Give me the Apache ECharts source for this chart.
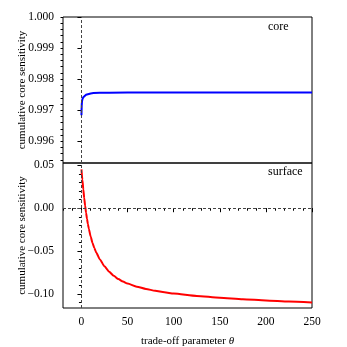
<!DOCTYPE html>
<html>
<head>
<meta charset="utf-8">
<script src="https://cdn.jsdelivr.net/npm/echarts@6/dist/echarts.min.js"></script>
<style>html,body{margin:0;padding:0;background:#fff;}#c{width:347px;height:347px;}</style>
</head>
<body>
<div id="c"></div>
<script>
// ---- data ----
const coreTheta = [0, 0.3, 0.6, 1, 1.5, 2, 3, 4, 5, 7, 10, 13, 20, 30, 50, 100, 150, 200, 250];
const coreVals  = [0.99684, 0.99715, 0.99728, 0.99735, 0.99739, 0.99742, 0.99746, 0.99748, 0.99750, 0.99752, 0.99754, 0.99755, 0.99756, 0.99756, 0.99757, 0.99757, 0.99757, 0.99757, 0.99757];
const surfTheta = [0, 1, 2, 3, 4, 5, 6, 7, 8, 10, 12, 14, 16, 20, 25, 30, 35, 40, 45, 50, 60, 70, 80, 90, 100, 125, 150, 175, 200, 225, 250];
const surfVals  = [0.0453, 0.0333, 0.0221, 0.0120, 0.0029, -0.0052, -0.0123, -0.0185, -0.0239, -0.0331, -0.0405, -0.0465, -0.0515, -0.0597, -0.0677, -0.0740, -0.0788, -0.0826, -0.0855, -0.0878, -0.0914, -0.0941, -0.0963, -0.0980, -0.0995, -0.1022, -0.1043, -0.1060, -0.1075, -0.1088, -0.1099];
const xMajorTicks = [0, 50, 100, 150, 200, 250];
const xMinorTicks = [-20, -10, 0, 10, 20, 30, 40, 50, 60, 70, 80, 90, 100, 110, 120, 130, 140, 150, 160, 170, 180, 190, 200, 210, 220, 230, 240, 250];
const coreMajorTicks = [0.996, 0.997, 0.998, 0.999, 1.000];
const coreMinorTicks = [0.9954, 0.9956, 0.9958, 0.996, 0.9962, 0.9964, 0.9966, 0.9968, 0.997, 0.9972, 0.9974, 0.9976, 0.9978, 0.998, 0.9982, 0.9984, 0.9986, 0.9988, 0.999, 0.9992, 0.9994, 0.9996, 0.9998, 1.000];
const surfMajorTicks = [-0.10, -0.05, 0.00, 0.05];
const surfMinorTicks = [-0.11, -0.10, -0.09, -0.08, -0.07, -0.06, -0.05, -0.04, -0.03, -0.02, -0.01, 0.00, 0.01, 0.02, 0.03, 0.04, 0.05];
const xRange = [-20, 250];
const coreRange = [0.9953, 1.000];
const surfRange = [-0.1163, 0.0527];
const yName = 'cumulative core sensitivity';

const serif = '"Liberation Serif", "DejaVu Serif", serif';
const chart = echarts.init(document.getElementById('c'), null, {renderer: 'canvas'});

function minorAxis(extra, ticks) {
  return Object.assign({
    type: 'value',
    axisLine: {show: false},
    axisLabel: {show: false},
    splitLine: {show: false},
    axisTick: {show: true, inside: false, length: 2.5, lineStyle: {color: '#000', width: 1}, customValues: ticks}
  }, extra);
}

const dashStyle = {color: '#444', width: 1, type: [3, 2]};

chart.setOption({
  animation: false,
  backgroundColor: '#fff',
  grid: [
    {left: 63, top: 17, width: 249, height: 146, show: true, borderColor: '#000', borderWidth: 1, backgroundColor: 'transparent', containLabel: false, outerBoundsMode: 'none'},
    {left: 63, top: 163, width: 249, height: 145, show: true, borderColor: '#000', borderWidth: 1, backgroundColor: 'transparent', containLabel: false, outerBoundsMode: 'none'}
  ],
  xAxis: [
    {type: 'value', gridIndex: 0, min: xRange[0], max: xRange[1], position: 'bottom',
     axisLine: {show: false}, axisTick: {show: false}, axisLabel: {show: false}, splitLine: {show: false}},
    {type: 'value', gridIndex: 1, min: xRange[0], max: xRange[1], position: 'bottom',
     axisLine: {show: false}, splitLine: {show: false},
     axisTick: {show: true, length: 4, lineStyle: {color: '#000', width: 1}, customValues: xMajorTicks},
     axisLabel: {show: true, customValues: xMajorTicks, margin: 8, color: '#000', fontFamily: serif, fontSize: 11.5},
     name: 'trade-off parameter {i|θ}', nameLocation: 'middle', nameGap: 28, nameMoveOverlap: false,
     nameTextStyle: {color: '#000', fontFamily: serif, fontSize: 11, rich: {i: {fontStyle: 'italic', fontFamily: serif, fontSize: 11, color: '#000'}}}},
    minorAxis({gridIndex: 1, min: xRange[0], max: xRange[1], position: 'bottom'}, xMinorTicks)
  ],
  yAxis: [
    {type: 'value', gridIndex: 0, min: coreRange[0], max: coreRange[1], position: 'left',
     axisLine: {show: false}, splitLine: {show: false},
     axisTick: {show: true, length: 4, lineStyle: {color: '#000', width: 1}, customValues: coreMajorTicks},
     axisLabel: {show: true, customValues: coreMajorTicks, margin: 9, color: '#000', fontFamily: serif, fontSize: 11.5,
       formatter: v => v.toFixed(3)},
     name: yName, nameLocation: 'middle', nameGap: 35, nameMoveOverlap: false,
     nameTextStyle: {color: '#000', fontFamily: serif, fontSize: 11}},
    minorAxis({gridIndex: 0, min: coreRange[0], max: coreRange[1], position: 'left'}, coreMinorTicks),
    {type: 'value', gridIndex: 1, min: surfRange[0], max: surfRange[1], position: 'left',
     axisLine: {show: false}, splitLine: {show: false},
     axisTick: {show: true, length: 4, lineStyle: {color: '#000', width: 1}, customValues: surfMajorTicks},
     axisLabel: {show: true, customValues: surfMajorTicks, margin: 9, color: '#000', fontFamily: serif, fontSize: 11.5,
       formatter: v => (v < 0 ? '\u2212' + Math.abs(v).toFixed(2) : v.toFixed(2))},
     name: yName, nameLocation: 'middle', nameGap: 35, nameMoveOverlap: false,
     nameTextStyle: {color: '#000', fontFamily: serif, fontSize: 11}},
    minorAxis({gridIndex: 1, min: surfRange[0], max: surfRange[1], position: 'left'}, surfMinorTicks)
  ],
  series: [
    {type: 'line', xAxisIndex: 0, yAxisIndex: 0, data: [], silent: true,
     markLine: {silent: true, symbol: 'none', label: {show: false}, lineStyle: dashStyle, data: [{xAxis: 0}]}},
    {type: 'line', xAxisIndex: 1, yAxisIndex: 2, data: [], silent: true,
     markLine: {silent: true, symbol: 'none', label: {show: false}, lineStyle: dashStyle, data: [{xAxis: 0}, {yAxis: 0}]}},
    {type: 'line', xAxisIndex: 0, yAxisIndex: 0, showSymbol: false, smooth: false,
     data: coreTheta.map((t, i) => [t, coreVals[i]]),
     lineStyle: {color: '#0000ff', width: 2, join: 'round', cap: 'butt'}, z: 3},
    {type: 'line', xAxisIndex: 1, yAxisIndex: 2, showSymbol: false, smooth: 0.2, smoothMonotone: 'x',
     data: surfTheta.map((t, i) => [t, surfVals[i]]),
     lineStyle: {color: '#ff0000', width: 2, join: 'round'}, z: 3}
  ],
  graphic: [
    {type: 'text', left: 268, top: 21, style: {text: 'core', fill: '#000', font: '12px ' + serif}},
    {type: 'text', left: 268, top: 166, style: {text: 'surface', fill: '#000', font: '12px ' + serif}}
  ]
});
</script>
</body>
</html>
